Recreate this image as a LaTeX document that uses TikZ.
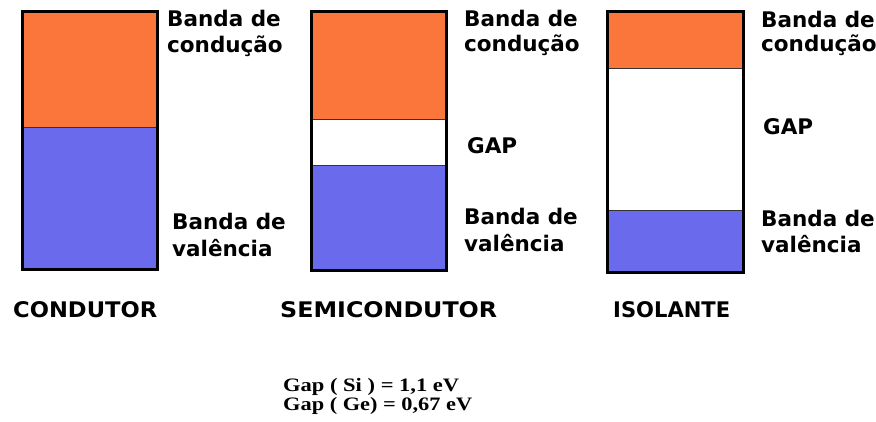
\documentclass[tikz,border=0pt]{standalone}
\usepackage{fontspec}
\newfontfamily\lblfont{DejaVu Sans}
\newfontfamily\gapfont{Liberation Serif}
\definecolor{condorange}{RGB}{250,118,58}
\definecolor{valblue}{RGB}{106,106,236}
\begin{document}
\begin{tikzpicture}[x=1pt,y=-1pt,
  lbl/.style={anchor=base west,inner sep=0pt,font=\lblfont\bfseries\fontsize{21.5}{21.5}\selectfont},
  gaptxt/.style={anchor=base west,inner sep=0pt,font=\gapfont\bfseries\fontsize{19}{19}\selectfont},
  frame/.style={draw=black,line width=3pt},
  divider/.style={draw=black!80,line width=0.8pt},
  cb/.style={fill=condorange},
  vb/.style={fill=valblue}]
\useasboundingbox[fill=white] (0,0) rectangle (876,422);

% ---- Condutor
\path[cb] (22.5,11.5) rectangle (157.5,127);
\path[vb] (22.5,127) rectangle (157.5,270);
\draw[divider] (22.5,127) -- (157.5,127);
\draw[frame] (22.5,11.5) rectangle (157.5,270);
\node[lbl] (c1) at (167,27) {Banda de};
\node[lbl] (c2) at (167,53) {condução};
\node[lbl] (c3) at (172,230) {Banda de};
\node[lbl] (c4) at (172,257) {valência};
\node[lbl] (c5) at (13,317) {\resizebox{144pt}{\height}{CONDUTOR}};

% ---- Semicondutor
\path[cb] (311.5,11.5) rectangle (446.5,119.3);
\path[vb] (311.5,165.7) rectangle (446.5,271);
\draw[divider] (311.5,119.3) -- (446.5,119.3);
\draw[divider] (311.5,165.7) -- (446.5,165.7);
\draw[frame] (311.5,11.5) rectangle (446.5,271);
\node[lbl] (s1) at (464,27) {Banda de};
\node[lbl] (s2) at (464,52) {condução};
\node[lbl] (s3) at (467,154) {GAP};
\node[lbl] (s4) at (464,225) {Banda de};
\node[lbl] (s5) at (464,252) {valência};
\node[lbl] (s6) at (280,317) {\resizebox{217pt}{\height}{SEMICONDUTOR}};

% ---- Isolante
\path[cb] (607.5,11.5) rectangle (743.5,68.3);
\path[vb] (607.5,210) rectangle (743.5,272.5);
\draw[divider] (607.5,68.3) -- (743.5,68.3);
\draw[divider] (607.5,210) -- (743.5,210);
\draw[frame] (607.5,11.5) rectangle (743.5,272.5);
\node[lbl] (i1) at (761,28) {Banda de};
\node[lbl] (i2) at (761,52) {condução};
\node[lbl] (i3) at (763,135) {GAP};
\node[lbl] (i4) at (761,227) {Banda de};
\node[lbl] (i5) at (761,253) {valência};
\node[lbl] (i6) at (613,317) {\resizebox{117pt}{\height}{ISOLANTE}};

% ---- Gap values
\node[gaptxt] (g1) at (283,391) {\resizebox{176pt}{\height}{Gap ( Si ) = 1,1 eV}};
\node[gaptxt] (g2) at (283,410) {\resizebox{189pt}{\height}{Gap ( Ge) = 0,67 eV}};
\end{tikzpicture}
\end{document}
